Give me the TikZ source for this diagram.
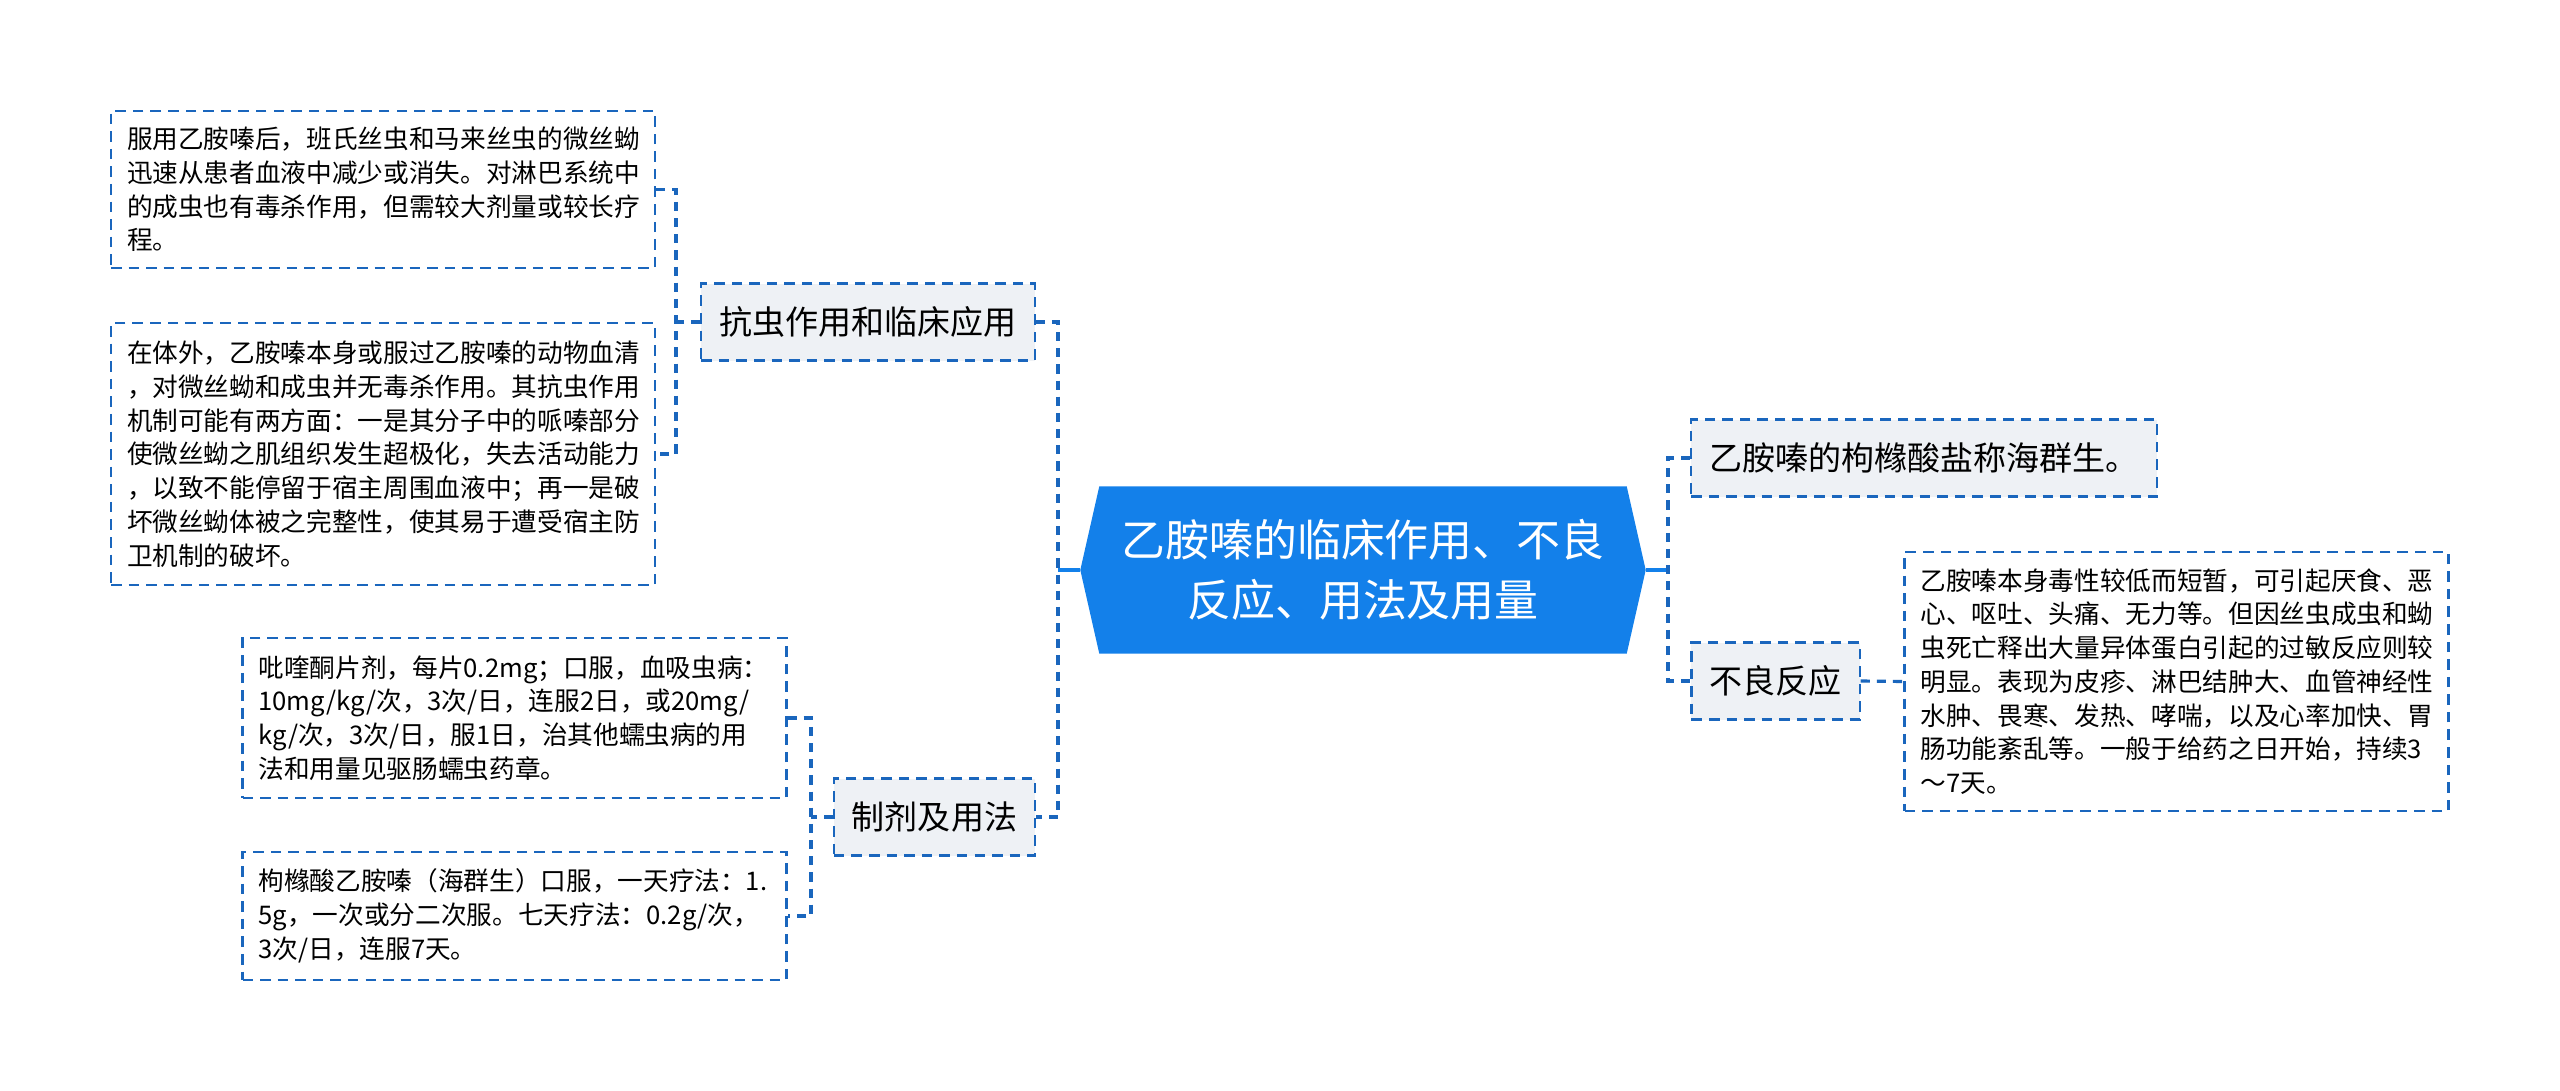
\documentclass[tikz,border=0pt]{standalone}
\usepackage{fontspec}
\setmainfont{Noto Sans CJK SC}
\usetikzlibrary{backgrounds}
\definecolor{rootblue}{HTML}{1380EA}
\definecolor{linkblue}{HTML}{1A66BD}
\definecolor{topicgray}{HTML}{EEF1F5}

\begin{document}
\begin{tikzpicture}
    [ every node/.style={inner sep=0pt}
    , leaf/.style={draw=linkblue, line width=0.6pt, dash pattern=on 3pt off 2pt, fill=white,
        text width=5.12cm, inner xsep=0.16cm, align=left,
        font=\fontsize{7.3pt}{9.6pt}\selectfont}
    , topic/.style={draw=linkblue, line width=0.6pt, dash pattern=on 3pt off 2pt, fill=topicgray,
        inner xsep=0.18cm, minimum height=0.77cm, font=\fontsize{9.4pt}{11pt}\selectfont}
    , root/.style={minimum width=5.64cm, minimum height=1.66cm, align=center, text=white,
        font=\fontsize{12.5pt}{17pt}\selectfont}
    , link/.style={draw=linkblue, line width=0.9pt, dash pattern=on 2.6pt off 2pt}
    , stem/.style={draw=rootblue, line width=1pt}
    ]
    \useasboundingbox (0,0) rectangle (25.6,10.9);

    % centre
    \node [root] (root) at (13.63,5.20) {乙胺嗪的临床作用、不良\\反应、用法及用量};

    % first level
    \node [topic] (t1) at (8.68,7.68)   {抗虫作用和临床应用};
    \node [topic] (t2) at (9.345,2.73)  {制剂及用法};
    \node [topic] (t3) at (19.24,6.32)  {乙胺嗪的枸橼酸盐称海群生。};
    \node [topic] (t4) at (17.755,4.09) {不良反应};

    % leaves
    \node [leaf, minimum height=1.57cm] (l1) at (3.83,9.005)
      {服用乙胺嗪后，班氏丝虫和马来丝虫的微丝蚴\\迅速从患者血液中减少或消失。对淋巴系统中\\的成虫也有毒杀作用，但需较大剂量或较长疗\\程。};
    \node [leaf, minimum height=2.62cm] (l2) at (3.83,6.36)
      {在体外，乙胺嗪本身或服过乙胺嗪的动物血清\\，对微丝蚴和成虫并无毒杀作用。其抗虫作用\\机制可能有两方面：一是其分子中的哌嗪部分\\使微丝蚴之肌组织发生超极化，失去活动能力\\，以致不能停留于宿主周围血液中；再一是破\\坏微丝蚴体被之完整性，使其易于遭受宿主防\\卫机制的破坏。};
    \node [leaf, minimum height=1.60cm] (l3) at (5.145,3.72)
      {吡喹酮片剂，每片0.2mg；口服，血吸虫病：\\10mg/kg/次，3次/日，连服2日，或20mg/\\kg/次，3次/日，服1日，治其他蠕虫病的用\\法和用量见驱肠蠕虫药章。};
    \node [leaf, minimum height=1.28cm] (l4) at (5.145,1.74)
      {枸橼酸乙胺嗪（海群生）口服，一天疗法：1.\\5g，一次或分二次服。七天疗法：0.2g/次，\\3次/日，连服7天。};
    \node [leaf, minimum height=2.59cm] (l5) at (21.765,4.085)
      {乙胺嗪本身毒性较低而短暂，可引起厌食、恶\\心、呕吐、头痛、无力等。但因丝虫成虫和蚴\\虫死亡释出大量异体蛋白引起的过敏反应则较\\明显。表现为皮疹、淋巴结肿大、血管神经性\\水肿、畏寒、发热、哮喘，以及心率加快、胃\\肠功能紊乱等。一般于给药之日开始，持续3\\～7天。};

    \coordinate (lspine) at (10.58,0);
    \coordinate (rspine) at (16.68,0);
    \coordinate (aspine) at (6.76,0);
    \coordinate (bspine) at (8.11,0);

    \begin{scope}[on background layer]
      \fill [white] (0,0) rectangle (25.6,10.9);
      \fill [rootblue] (root.west) -- ([xshift=0.19cm]root.north west)
        -- ([xshift=-0.19cm]root.north east) -- (root.east)
        -- ([xshift=-0.19cm]root.south east) -- ([xshift=0.19cm]root.south west) -- cycle;
    \end{scope}

    % connectors
    \draw [stem] (root.west) -- (root.west -| lspine);
    \draw [link] (t1.east) -- (t1.east -| lspine) -- (t2.east -| lspine) -- (t2.east);
    \draw [link] (l1.east) -- (l1.east -| aspine) -- (l2.east -| aspine) -- (l2.east);
    \draw [link] (t1.west) -- (t1.west -| aspine);
    \draw [link] (l3.east) -- (l3.east -| bspine) -- (l4.east -| bspine) -- (l4.east);
    \draw [link] (t2.west) -- (t2.west -| bspine);
    \draw [stem] (root.east) -- (root.east -| rspine);
    \draw [link] (t3.west) -- (t3.west -| rspine) -- (t4.west -| rspine) -- (t4.west);
    \draw [link] (t4.east) -- (l5.west);
\end{tikzpicture}
\end{document}
